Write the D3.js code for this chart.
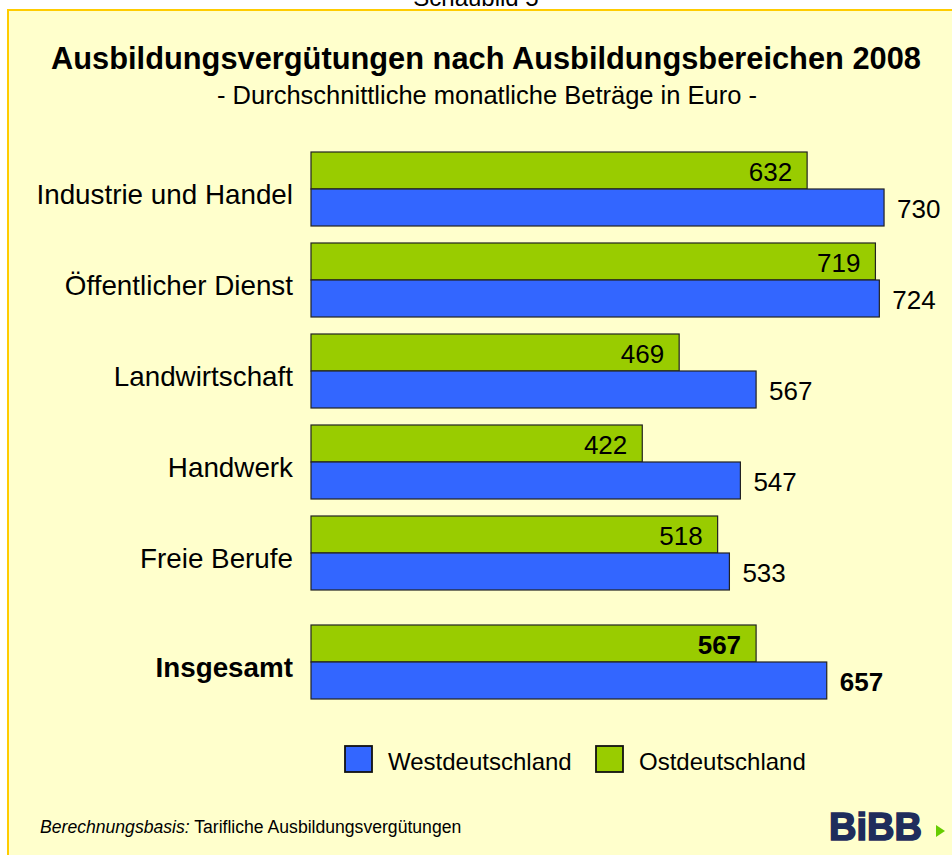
<!DOCTYPE html>
<html>
<head>
<meta charset="utf-8">
<script src="https://cdn.jsdelivr.net/npm/d3@7"></script>
<style>
  body { margin: 0; background: #fff; }
  text { font-family: "Liberation Sans", Arial, sans-serif; fill: #000; }
</style>
</head>
<body>
<svg id="chart" width="952" height="855"></svg>
<script>
const categories = [ "Industrie und Handel", "Öffentlicher Dienst", "Landwirtschaft",
                     "Handwerk", "Freie Berufe", "Insgesamt" ];
const west = [ 730, 724, 567, 547, 533, 657 ];
const ost  = [ 632, 719, 469, 422, 518, 567 ];
const seriesNames = [ "Westdeutschland", "Ostdeutschland" ];
const totalGap = 18;

window.addEventListener( "load", makeChart );
function makeChart() {
    var svg = d3.select( "#chart" );

    // frame
    svg.append( "text" ).attr( "x", 476 ).attr( "y", 6 )
       .attr( "text-anchor", "middle" ).style( "font-size", "24px" )
       .text( "Schaubild 5" );
    svg.append( "rect" ).attr( "x", 8 ).attr( "y", 10 )
       .attr( "width", 960 ).attr( "height", 860 )
       .attr( "fill", "#FFFFCC" ).attr( "stroke", "#FFCC00" ).attr( "stroke-width", 2 );

    svg.append( "text" ).attr( "x", 486 ).attr( "y", 69 )
       .attr( "text-anchor", "middle" ).style( "font-size", "30.8px" ).style( "font-weight", "bold" )
       .text( "Ausbildungsvergütungen nach Ausbildungsbereichen 2008" );
    svg.append( "text" ).attr( "x", 487 ).attr( "y", 104 )
       .attr( "text-anchor", "middle" ).style( "font-size", "25.5px" )
       .text( "- Durchschnittliche monatliche Beträge in Euro -" );

    var scX = d3.scaleLinear().domain( [0, 800] ).range( [311, 939] );
    var scY = d3.scaleBand().domain( categories ).range( [152, 681] )
                .paddingInner( 17/91 ).paddingOuter( 0 ).align( 0 );
    var scS = d3.scaleBand().domain( ["ost", "west"] ).range( [0, scY.bandwidth()] );

    var rows = categories.map( (c, i) => ({ cat: c, west: west[i], ost: ost[i],
                                             total: c === "Insgesamt" }) );
    var top = d => scY( d.cat ) + ( d.total ? totalGap : 0 );

    var g = svg.selectAll( "g.row" ).data( rows ).join( "g" )
               .attr( "class", "row" )
               .attr( "transform", d => `translate(0,${top(d)})` );

    g.append( "rect" ).attr( "x", scX(0) ).attr( "y", scS("ost") )
     .attr( "width", d => scX(d.ost) - scX(0) ).attr( "height", scS.bandwidth() )
     .attr( "fill", "#99CC00" ).attr( "stroke", "#222" ).attr( "stroke-width", 1.2 );
    g.append( "rect" ).attr( "x", scX(0) ).attr( "y", scS("west") )
     .attr( "width", d => scX(d.west) - scX(0) ).attr( "height", scS.bandwidth() )
     .attr( "fill", "#3366FF" ).attr( "stroke", "#222" ).attr( "stroke-width", 1.2 );

    // labels
    g.append( "text" ).attr( "x", 293 ).attr( "y", scS("west") + 15 )
     .attr( "text-anchor", "end" ).style( "font-size", "27.8px" )
     .style( "font-weight", d => d.total ? "bold" : "normal" )
     .text( d => d.cat );
    g.append( "text" ).attr( "x", d => scX(d.ost) - 15 ).attr( "y", scS("ost") + scS.bandwidth()/2 + 10 )
     .attr( "text-anchor", "end" ).style( "font-size", "26px" )
     .style( "font-weight", d => d.total ? "bold" : "normal" )
     .text( d => d.ost );
    g.append( "text" ).attr( "x", d => scX(d.west) + 13 ).attr( "y", scS("west") + scS.bandwidth()/2 + 10 )
     .style( "font-size", "26px" )
     .style( "font-weight", d => d.total ? "bold" : "normal" )
     .text( d => d.west );

    // legend
    var legX = d3.scalePoint().domain( seriesNames ).range( [345, 596] );
    var leg = svg.selectAll( "g.leg" ).data( seriesNames ).join( "g" )
                 .attr( "class", "leg" )
                 .attr( "transform", d => `translate(${legX(d)},746)` );
    leg.append( "rect" ).attr( "width", 27 ).attr( "height", 26 )
       .attr( "fill", (d, i) => i ? "#99CC00" : "#3366FF" )
       .attr( "stroke", "#111" ).attr( "stroke-width", 1.8 );
    leg.append( "text" ).attr( "x", 43 ).attr( "y", 24 )
       .style( "font-size", "24px" ).text( d => d );

    // footer
    var foot = svg.append( "text" ).attr( "x", 40 ).attr( "y", 833 ).style( "font-size", "17.6px" );
    foot.append( "tspan" ).style( "font-style", "italic" ).text( "Berechnungsbasis:" );
    foot.append( "tspan" ).text( " Tarifliche Ausbildungsvergütungen" );

    // logo
    svg.append( "text" ).attr( "x", 829 ).attr( "y", 840 )
       .style( "font-size", "38px" ).style( "font-weight", "bold" )
       .style( "fill", "#1F2D5C" ).style( "stroke", "#1F2D5C" ).style( "stroke-width", 1.6 )
       .text( "BiBB" );
    svg.append( "path" ).attr( "d", "M936,825 L945,831 L936,837 Z" ).attr( "fill", "#66CC00" );
}
</script>
</body>
</html>
